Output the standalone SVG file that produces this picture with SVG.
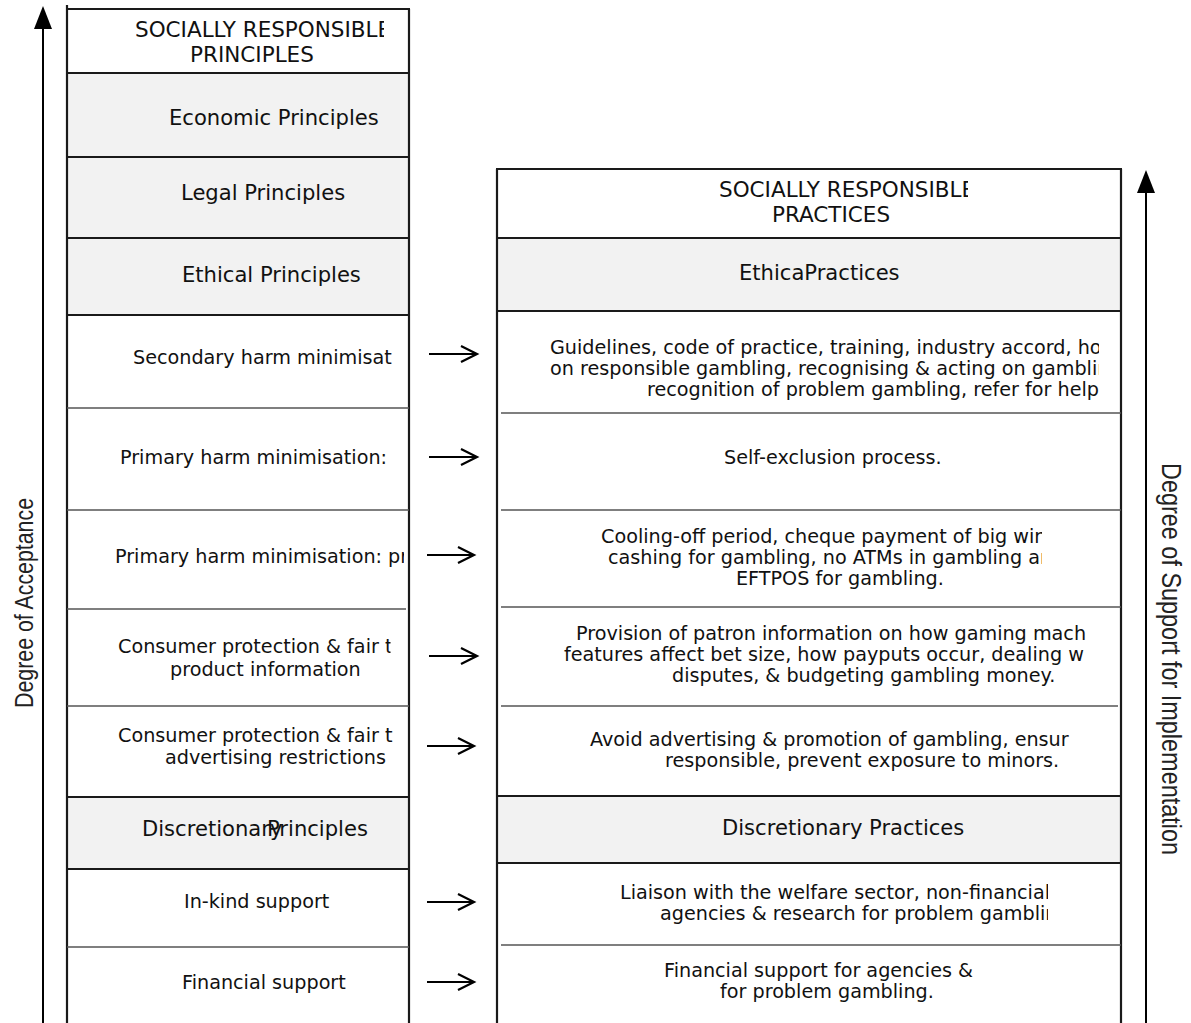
<svg xmlns="http://www.w3.org/2000/svg" width="1191" height="1023" viewBox="0 0 1191 1023">
<style>
  .w { fill: #ffffff; }
  .g { fill: #f2f2f2; }
  .t { font-family: "DejaVu Sans", "Liberation Sans", sans-serif; font-size: 21.5px; fill: #111; }
  .h { font-family: "DejaVu Sans", "Liberation Sans", sans-serif; font-size: 21.1px; fill: #111; }
  .b { font-family: "DejaVu Sans", "Liberation Sans", sans-serif; font-size: 19.2px; fill: #111; }
  .ax { font-family: "Liberation Sans", "DejaVu Sans", sans-serif; fill: #222; }
  .thick { stroke: #1a1a1a; stroke-width: 2.2; fill: none; }
  .thin { stroke: #555; stroke-width: 1.3; fill: none; }
  .arr { stroke: #000; stroke-width: 2.2; fill: none; stroke-linejoin: miter; }
  .axis { stroke: #000; stroke-width: 2; fill: none; }
</style>
<defs>
  <marker id="tri" viewBox="0 0 23 18" refX="17" refY="9" markerWidth="23" markerHeight="18" markerUnits="userSpaceOnUse" orient="auto">
    <path d="M0,0 L23,9 L0,18 Z" fill="#000"/>
  </marker>
  <clipPath id="cL1"><rect x="0" y="0" width="384" height="80"/></clipPath>
  <clipPath id="cL7"><rect x="0" y="510" width="404" height="99"/></clipPath>
  <clipPath id="cL8"><rect x="0" y="609" width="390.5" height="60"/></clipPath>
  <clipPath id="cR1"><rect x="497" y="169" width="471" height="69"/></clipPath>
  <clipPath id="cR3"><rect x="497" y="311" width="602" height="102"/></clipPath>
  <clipPath id="cR5"><rect x="497" y="510" width="545" height="97"/></clipPath>
  <clipPath id="cR6"><rect x="497" y="607" width="593" height="99"/></clipPath>
  <clipPath id="cR7"><rect x="497" y="706" width="575" height="90"/></clipPath>
  <clipPath id="cR9"><rect x="497" y="863" width="551" height="82"/></clipPath>
</defs>

<!-- Left column: principles -->
<g id="principles-title">
  <rect class="w" x="67" y="9" width="342" height="64"/>
  <text class="t" x="135" y="37" clip-path="url(#cL1)">SOCIALLY RESPONSIBLE</text>
  <text class="t" x="190" y="62">PRINCIPLES</text>
</g>
<g id="economic-principles">
  <rect class="g" x="67" y="73" width="342" height="84"/>
  <text class="h" x="169" y="125">Economic Principles</text>
</g>
<g id="legal-principles">
  <rect class="g" x="67" y="157" width="342" height="81"/>
  <text class="h" x="181" y="200">Legal Principles</text>
</g>
<g id="ethical-principles">
  <rect class="g" x="67" y="238" width="342" height="77"/>
  <text class="h" x="182" y="282">Ethical Principles</text>
</g>
<g id="secondary-harm">
  <rect class="w" x="67" y="315" width="342" height="93"/>
  <text class="b" x="133" y="364">Secondary harm minimisat</text>
</g>
<g id="primary-harm-1">
  <rect class="w" x="67" y="408" width="342" height="102"/>
  <text class="b" x="120" y="464">Primary harm minimisation:</text>
</g>
<g id="primary-harm-2">
  <rect class="w" x="67" y="510" width="342" height="99"/>
  <text class="b" x="115" y="563" clip-path="url(#cL7)">Primary harm minimisation: pr</text>
</g>
<g id="consumer-product">
  <rect class="w" x="67" y="609" width="342" height="97"/>
  <text class="b" x="118" y="653" clip-path="url(#cL8)">Consumer protection &amp; fair t</text>
  <text class="b" x="170" y="676">product information</text>
</g>
<g id="consumer-advertising">
  <rect class="w" x="67" y="706" width="342" height="91"/>
  <text class="b" x="118" y="742">Consumer protection &amp; fair t</text>
  <text class="b" x="165" y="764">advertising restrictions</text>
</g>
<g id="discretionary-principles">
  <rect class="g" x="67" y="797" width="342" height="72"/>
  <text class="h" x="142" y="836">Discretionary</text>
  <text class="h" x="267" y="836">Principles</text>
</g>
<g id="in-kind-support">
  <rect class="w" x="67" y="869" width="342" height="78"/>
  <text class="b" x="184" y="908">In-kind support</text>
</g>
<g id="financial-support">
  <rect class="w" x="67" y="947" width="342" height="76"/>
  <text class="b" x="182" y="989">Financial support</text>
</g>

<!-- Right column: practices -->
<g id="practices-title">
  <rect class="w" x="497" y="169" width="624" height="69"/>
  <text class="t" x="719" y="197" clip-path="url(#cR1)">SOCIALLY RESPONSIBLE</text>
  <text class="t" x="772" y="222">PRACTICES</text>
</g>
<g id="ethical-practices">
  <rect class="g" x="497" y="238" width="624" height="73"/>
  <text class="h" x="739" y="280">EthicaPractices</text>
</g>
<g id="guidelines">
  <rect class="w" x="497" y="311" width="624" height="102"/>
  <g clip-path="url(#cR3)">
    <text class="b" x="550" y="354">Guidelines, code of practice, training, industry accord, ho</text>
    <text class="b" x="550" y="375">on responsible gambling, recognising &amp; acting on gamblin</text>
    <text class="b" x="647" y="396">recognition of problem gambling, refer for help</text>
  </g>
</g>
<g id="self-exclusion">
  <rect class="w" x="497" y="413" width="624" height="97"/>
  <text class="b" x="724" y="464">Self-exclusion process.</text>
</g>
<g id="cooling-off">
  <rect class="w" x="497" y="510" width="624" height="97"/>
  <g clip-path="url(#cR5)">
    <text class="b" x="601" y="543">Cooling-off period, cheque payment of big win</text>
    <text class="b" x="608" y="564">cashing for gambling, no ATMs in gambling an</text>
    <text class="b" x="736" y="585">EFTPOS for gambling.</text>
  </g>
</g>
<g id="patron-information">
  <rect class="w" x="497" y="607" width="624" height="99"/>
  <g clip-path="url(#cR6)">
    <text class="b" x="576" y="640">Provision of patron information on how gaming mach</text>
    <text class="b" x="564" y="661">features affect bet size, how payputs occur, dealing w</text>
    <text class="b" x="672" y="682">disputes, &amp; budgeting gambling money.</text>
  </g>
</g>
<g id="avoid-advertising">
  <rect class="w" x="497" y="706" width="624" height="90"/>
  <g clip-path="url(#cR7)">
    <text class="b" x="590" y="746">Avoid advertising &amp; promotion of gambling, ensur</text>
    <text class="b" x="665" y="767">responsible, prevent exposure to minors.</text>
  </g>
</g>
<g id="discretionary-practices">
  <rect class="g" x="497" y="796" width="624" height="67"/>
  <text class="h" x="722" y="835">Discretionary Practices</text>
</g>
<g id="liaison">
  <rect class="w" x="497" y="863" width="624" height="82"/>
  <g clip-path="url(#cR9)">
    <text class="b" x="620" y="899">Liaison with the welfare sector, non-financial</text>
    <text class="b" x="660" y="920">agencies &amp; research for problem gambling</text>
  </g>
</g>
<g id="financial-agencies">
  <rect class="w" x="497" y="945" width="624" height="78"/>
  <text class="b" x="664" y="977">Financial support for agencies &amp;</text>
  <text class="b" x="720" y="998">for problem gambling.</text>
</g>

<!-- Frames and separators -->
<g id="frames">
  <path class="thick" d="M67,5 V1023 M409,9 V1023 M66,9 H410"/>
  <path class="thick" d="M67,73 H409 M67,157 H409 M67,238 H409 M67,315 H409 M67,797 H409 M67,869 H409"/>
  <path class="thin" d="M67,408 H409 M67,510 H409 M67,609 H406 M67,706 H409 M67,947 H409"/>
  <path class="thick" d="M497,169 V1023 M1121,169 V1023 M496,169 H1122"/>
  <path class="thick" d="M497,238 H1121 M497,311 H1121 M497,796 H1121 M497,863 H1121"/>
  <path class="thin" d="M501,413 H1121 M501,510 H1121 M501,607 H1121 M501,706 H1118 M501,945 H1121"/>
</g>

<!-- Connectors -->
<g id="connectors">
  <path class="arr" d="M429,354 H476 M461,346 L477,354 L461,362"/>
  <path class="arr" d="M429,457 H476 M461,449 L477,457 L461,465"/>
  <path class="arr" d="M427,555 H473 M458,547 L474,555 L458,563"/>
  <path class="arr" d="M429,656 H476 M461,648 L477,656 L461,664"/>
  <path class="arr" d="M427,746 H473 M458,738 L474,746 L458,754"/>
  <path class="arr" d="M427,902 H473 M458,894 L474,902 L458,910"/>
  <path class="arr" d="M427,982 H473 M458,974 L474,982 L458,990"/>
</g>

<!-- Axes -->
<g id="axis-acceptance">
  <line class="axis" x1="43" y1="1023" x2="43" y2="12" marker-end="url(#tri)"/>
  <text class="ax" font-size="25" transform="translate(33,603) rotate(-90)" text-anchor="middle" textLength="210" lengthAdjust="spacingAndGlyphs">Degree of Acceptance</text>
</g>
<g id="axis-support">
  <line class="axis" x1="1146" y1="1023" x2="1146" y2="176" marker-end="url(#tri)"/>
  <text class="ax" font-size="27" transform="translate(1162,659) rotate(90)" text-anchor="middle" textLength="392" lengthAdjust="spacingAndGlyphs">Degree of Support for Implementation</text>
</g>
</svg>
